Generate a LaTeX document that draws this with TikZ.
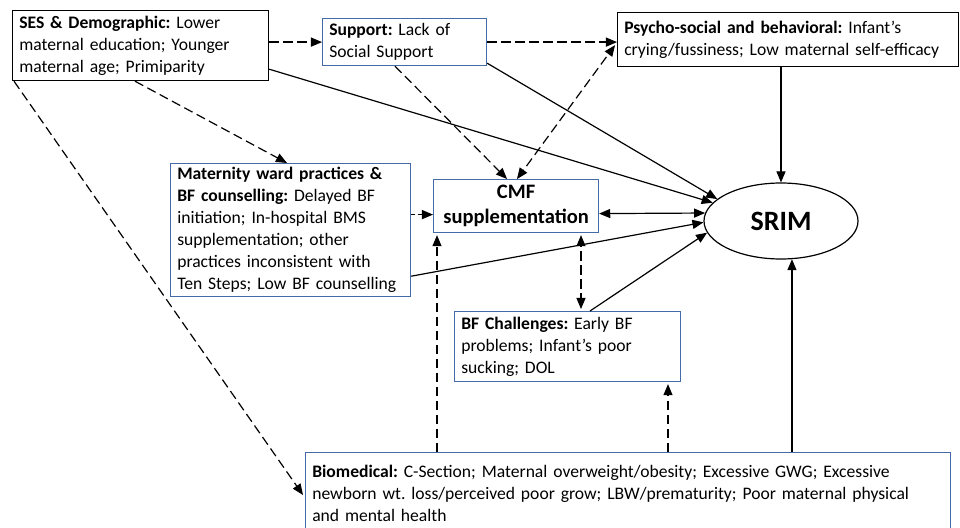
\documentclass[tikz,border=0pt]{standalone}
\usepackage{fontspec}
\setmainfont{Carlito}
\usetikzlibrary{arrows, calc, shapes.geometric}
\definecolor{boxblue}{RGB}{68,106,168}
\frenchspacing

\begin{document}
\begin{tikzpicture}[x=0.75pt, y=-0.75pt,
	factor/.style={draw, line width=0.9pt, anchor=north west, align=left, inner xsep=5pt, inner ysep=0pt, font=\fontsize{13.2}{16.5}\selectfont},
	blkbox/.style={factor, draw=black},
	bluebox/.style={factor, draw=boxblue},
	link/.style={line width=0.9pt, -triangle 45},
	dlink/.style={link, dash pattern=on 7pt off 3.5pt}]
	\useasboundingbox (0,0) rectangle (960,528);
	% factor boxes
	\node[blkbox, text width=182pt, minimum height=52.5pt] (ses) at (12,10) {\textbf{SES \& Demographic:} Lower\\ maternal education; Younger\\ maternal age; Primiparity};
	\node[bluebox, text width=113pt, minimum height=35.25pt] (sup) at (322,18) {\textbf{Support:} Lack of\\ Social Support};
	\node[blkbox, text width=245.75pt, minimum height=40.5pt] (psy) at (617,12) {\textbf{Psycho-social and behavioral:} Infant’s\\ crying/fussiness; Low maternal self-efficacy};
	\node[bluebox, text width=170pt, minimum height=99.75pt] (mat) at (170,163) {\textbf{Maternity ward practices \&}\\ \textbf{BF counselling:} Delayed BF\\ initiation; In-hospital BMS\\ supplementation; other\\ practices inconsistent with\\ Ten Steps; Low BF counselling};
	\node[bluebox, text width=113.75pt, minimum height=39.75pt, align=center, font=\fontsize{15.4}{18.5}\selectfont\bfseries] (cmf) at (433,179) {CMF\\ supplementation};
	\node[draw, ellipse, line width=0.9pt, minimum width=115.5pt, minimum height=57pt, font=\fontsize{21}{26}\selectfont\bfseries] (srim) at (781,221) {SRIM};
	\node[bluebox, text width=159.5pt, minimum height=52.5pt] (bf) at (454,311) {\textbf{BF Challenges:} Early BF\\ problems; Infant’s poor\\ sucking; DOL};
	\node[bluebox, text width=473.75pt, minimum height=61.5pt] (bio) at (305,452) {\textbf{Biomedical:} C-Section; Maternal overweight/obesity; Excessive GWG; Excessive\\ newborn wt. loss/perceived poor grow; LBW/prematurity; Poor maternal physical\\ and mental health};
	% paths
	\draw[dlink] (sup.west -| ses.east) -- (sup.west);
	\draw[dlink] (sup.east) -- (sup.east -| psy.west);
	\draw[link] ($(ses.south east)+(0,-12)$) -- (srim.165);
	\draw[dlink] ($(ses.south west)+(123,0)$) -- ($(mat.north west)+(117,0)$);
	\draw[dlink] ($(ses.south west)+(2,0)$) -- ($(bio.north west)+(-2,43)$);
	\draw[dlink] ($(sup.south west)+(73,0)$) -- ($(cmf.north west)+(74,0)$);
	\draw[link] ($(sup.south east)+(0,-3)$) -- (srim.161);
	\draw[dlink, triangle 45-triangle 45] ($(cmf.north west)+(84,0)$) -- ($(psy.south west)+(-2,-22)$);
	\draw[link] (srim.north |- psy.south) -- (srim.north);
	\coordinate (mc) at ($(cmf.west)+(0,8.5)$);
	\draw[link, dash pattern=on 3pt off 2pt] (mc -| mat.east) -- (mc);
	\draw[link] ($(mat.south east)+(0,-21)$) -- (srim.181);
	\draw[link, triangle 45-triangle 45] ($(cmf.east)+(0,7.5)$) -- (srim.174);
	\draw[dlink, triangle 45-triangle 45] ($(cmf.south west)+(148,2)$) -- ($(bf.north west)+(127,-2)$);
	\draw[link] ($(bf.north west)+(136,0)$) -- (srim.189);
	\draw[dlink] ($(bio.north west)+(132,0)$) -- ($(cmf.south west)+(4,2)$);
	\draw[dlink] ($(bio.north west)+(363,0)$) -- ($(bf.south west)+(214,2)$);
	\draw[link] (srim.-74 |- bio.north) -- (srim.-74);
\end{tikzpicture}
\end{document}
